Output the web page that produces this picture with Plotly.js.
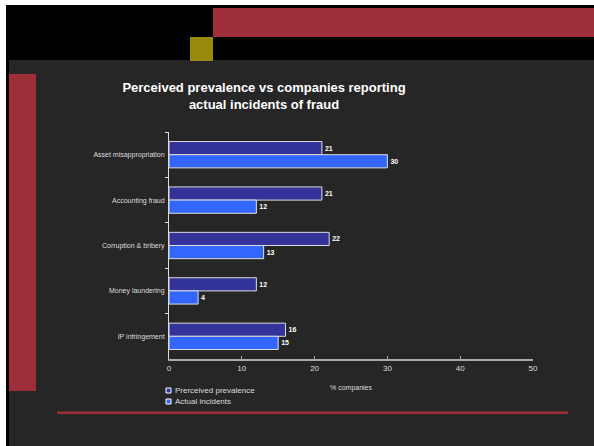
<!DOCTYPE html>
<html>
<head>
<meta charset="utf-8">
<script src="https://cdn.plot.ly/plotly-3.0.1.min.js"></script>
<style>html,body{margin:0;padding:0;background:#262626;}#chart{width:594px;height:446px;}</style>
</head>
<body>
<div id="chart"></div>
<script>
const categories = ["Asset misappropriation", "Accounting fraud", "Corruption & bribery", "Money laundering", "IP infringement"];
const perceived = [21, 21, 22, 12, 16];
const actual = [30, 12, 13, 4, 15];
const seriesNames = ["Prerceived prevalence", "Actual incidents"];
const seriesColors = ['#333399', '#3366ff'];
const xTicks = [0, 10, 20, 30, 40, 50];

const W = 594, H = 446, ML = 169, MR = 61, MT = 132, MB = 87;
const PW = W - ML - MR, PH = H - MT - MB;
const px = x => (x - ML) / PW;
const py = y => (H - MB - y) / PH;
function rect(x0, y0, x1, y1, color, lineColor) {
  return {type: 'rect', xref: 'paper', yref: 'paper', layer: lineColor ? 'above' : 'below',
    x0: px(x0), x1: px(x1), y0: py(y1), y1: py(y0),
    fillcolor: color, line: lineColor ? {color: lineColor, width: 1} : {width: 0}};
}
const shapes = [
  rect(0, 0, 594, 5, '#ffffff'),
  rect(0, 0, 6, 446, '#ffffff'),
  rect(6, 5, 594, 60, '#000000'),
  rect(6, 60, 9, 446, '#000000'),
  rect(213, 8, 594, 37, '#9e2f38'),
  rect(190, 37, 213, 61, '#978a0a'),
  rect(9, 74, 36, 391, '#9e2f38'),
  rect(57, 411.5, 568, 414, '#9e2f38')
];
// legend (manual, to match compact original)
const annotations = [];
seriesNames.forEach((name, i) => {
  const yc = 390.5 + i * 11;
  shapes.push(rect(166, yc - 2.5, 171, yc + 2.5, seriesColors[i], '#ffffff'));
  annotations.push({xref: 'paper', yref: 'paper', x: px(173), y: py(yc), xanchor: 'left', yanchor: 'middle',
    text: name, showarrow: false, font: {size: 8, color: '#dddddd'}});
});

const textFont = {family: 'Liberation Sans, Arial, sans-serif', size: 7, color: '#ffffff', weight: 'bold'};
const traces = [
  {type: 'bar', orientation: 'h', name: seriesNames[0], y: categories, x: perceived,
   marker: {color: seriesColors[0], line: {color: '#dddddd', width: 1}},
   text: perceived.map(String), textposition: 'outside', textfont: textFont, cliponaxis: false},
  {type: 'bar', orientation: 'h', name: seriesNames[1], y: categories, x: actual,
   marker: {color: seriesColors[1], line: {color: '#dddddd', width: 1}},
   text: actual.map(String), textposition: 'outside', textfont: textFont, cliponaxis: false}
];

const layout = {
  width: W, height: H,
  margin: {l: ML, r: MR, t: MT, b: MB},
  paper_bgcolor: '#262626', plot_bgcolor: 'rgba(0,0,0,0)',
  font: {family: 'Liberation Sans, Arial, sans-serif', color: '#dddddd'},
  title: {text: '<b>Perceived prevalence vs companies reporting<br>actual incidents of fraud</b>',
    font: {size: 13, color: '#ffffff', family: 'Liberation Sans, Arial, sans-serif'},
    x: 264 / W, xanchor: 'center', y: 1 - 92 / H, yanchor: 'top', xref: 'container', yref: 'container'},
  barmode: 'group', bargap: 0.42, bargroupgap: 0,
  xaxis: {range: [0, 50], tickvals: xTicks, ticktext: xTicks.map(String),
    showgrid: false, zeroline: false, showline: true, linecolor: '#aaaaaa', linewidth: 2,
    ticks: 'inside', ticklen: 3, tickcolor: '#aaaaaa', tickfont: {size: 8, color: '#dddddd'},
    title: {text: '% companies', font: {size: 7, color: '#dddddd'}, standoff: 14}},
  yaxis: {type: 'category', autorange: 'reversed', showgrid: false, zeroline: false,
    showline: true, linecolor: '#dddddd', linewidth: 1, ticks: 'outside', ticklen: 3,
    tickcolor: '#dddddd', tickson: 'boundaries', tickfont: {size: 7, color: '#dddddd'}, ticklabelstandoff: 2},
  showlegend: false,
  shapes: shapes,
  annotations: annotations
};
Plotly.newPlot('chart', traces, layout, {displayModeBar: false, staticPlot: true});
</script>
</body>
</html>
